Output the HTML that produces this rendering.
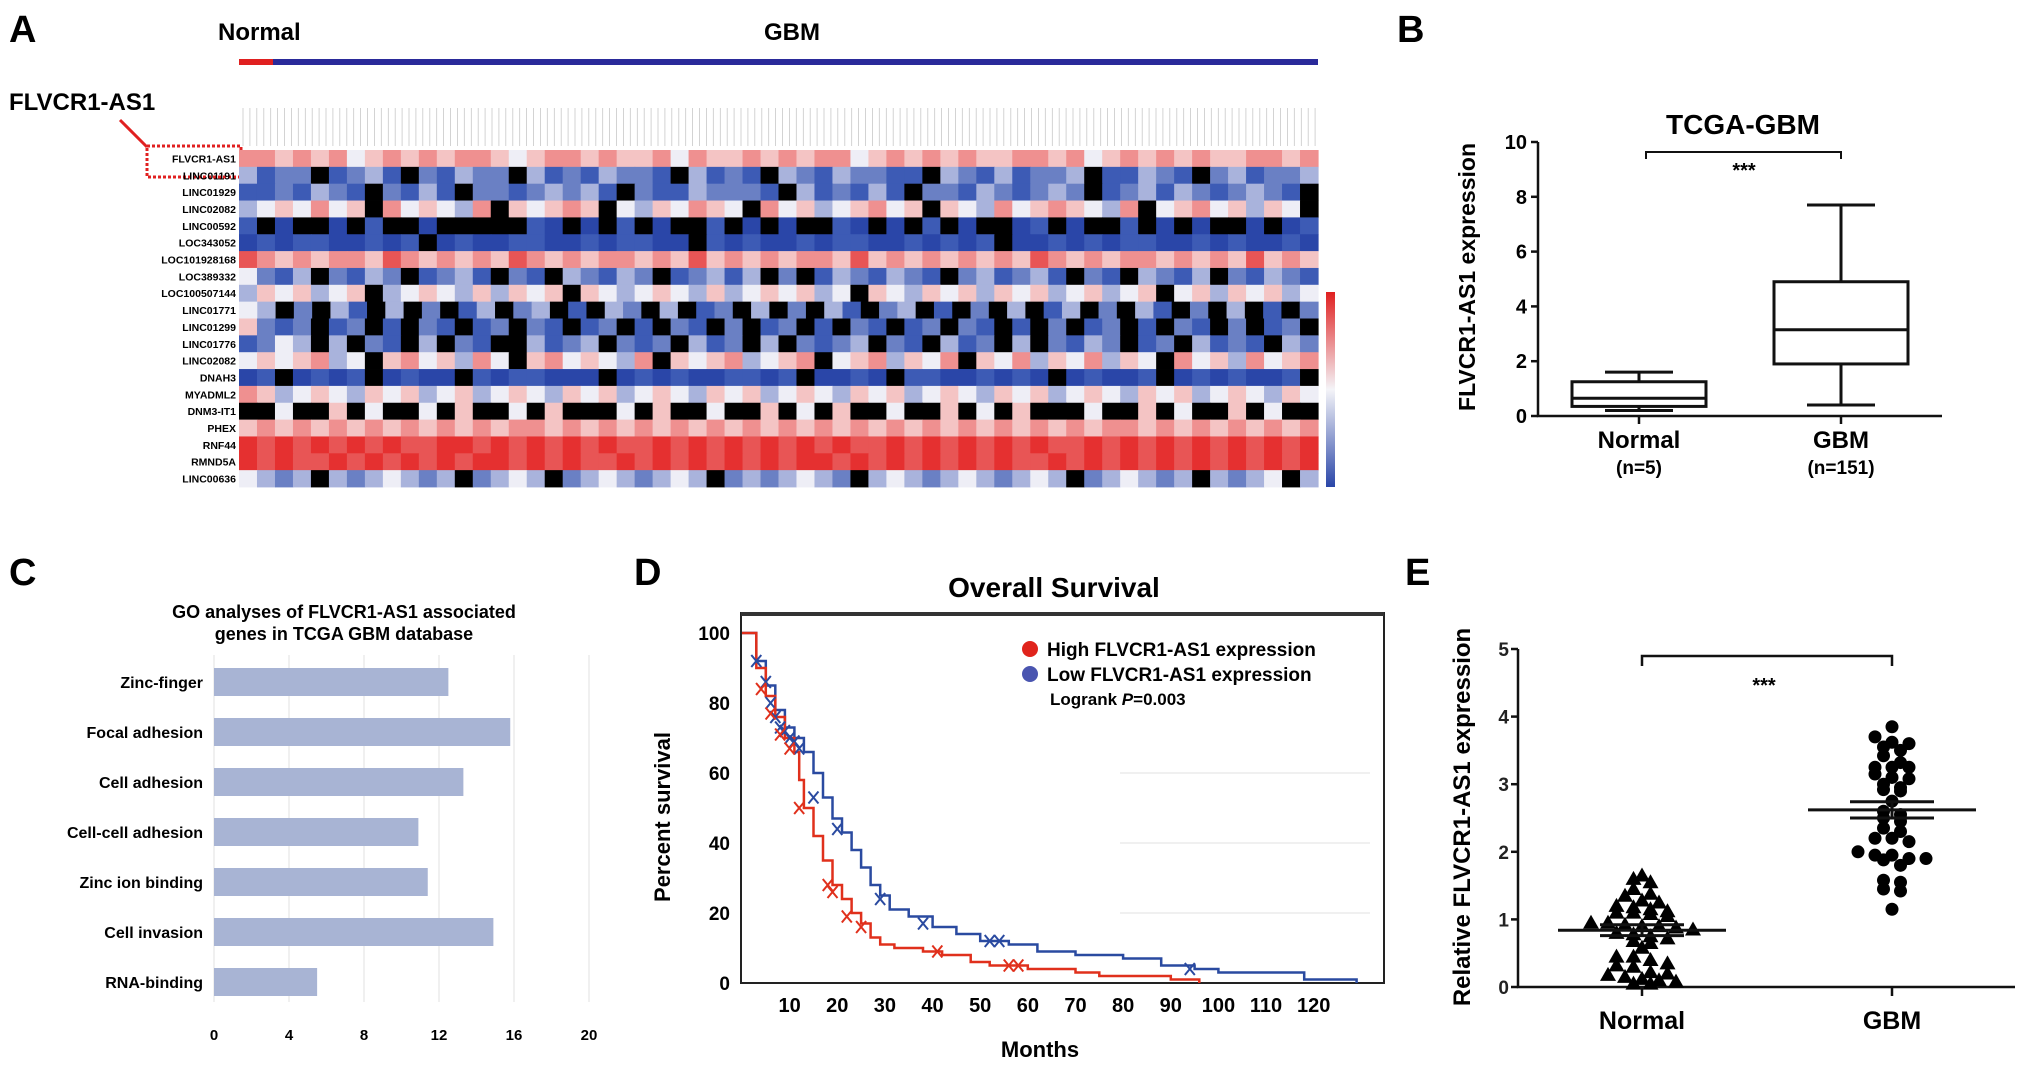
<!DOCTYPE html>
<html><head><meta charset="utf-8"><style>
html,body{margin:0;padding:0;background:#fff;}
svg{display:block;font-family:"Liberation Sans",Arial,sans-serif;font-weight:bold;}
</style></head><body>
<svg id="fig" width="2031" height="1065" viewBox="0 0 2031 1065" xmlns="http://www.w3.org/2000/svg">
<!-- Panel A static text -->
<text x="9" y="42" font-size="38">A</text>
<text x="218" y="40" font-size="24">Normal</text>
<text x="792" y="40" font-size="24" text-anchor="middle">GBM</text>
<rect x="239" y="59" width="34" height="6" fill="#e02020"/>
<rect x="273" y="59" width="1045" height="6" fill="#2a2a9a"/>
<text x="9" y="110" font-size="24">FLVCR1-AS1</text>
<line x1="120" y1="120" x2="147" y2="147" stroke="#e02020" stroke-width="3"/>
<rect x="147" y="146" width="94" height="31" fill="none" stroke="#e02020" stroke-width="3" stroke-dasharray="3,2"/>
<g id="heat"></g>
<defs><linearGradient id="cb" x1="0" y1="0" x2="0" y2="1"><stop offset="0" stop-color="#e02020"/><stop offset="0.5" stop-color="#f4f4f8"/><stop offset="1" stop-color="#2a46a8"/></linearGradient></defs>
<rect x="1326" y="292" width="9" height="195" fill="url(#cb)"/>

<!-- Panel B -->
<text x="1397" y="42" font-size="38">B</text>
<text x="1743" y="134" font-size="28" text-anchor="middle">TCGA-GBM</text>
<text transform="translate(1475,277) rotate(-90)" font-size="23" text-anchor="middle">FLVCR1-AS1 expression</text>
<g id="pb"></g>

<!-- Panel C -->
<text x="9" y="585" font-size="38">C</text>
<text x="344" y="618" font-size="18" text-anchor="middle">GO analyses of FLVCR1-AS1 associated</text>
<text x="344" y="640" font-size="18" text-anchor="middle">genes in TCGA GBM database</text>
<g id="pc"></g>

<!-- Panel D -->
<text x="634" y="585" font-size="38">D</text>
<text x="1054" y="597" font-size="28" text-anchor="middle">Overall Survival</text>
<text transform="translate(670,817) rotate(-90)" font-size="22" text-anchor="middle">Percent survival</text>
<text x="1040" y="1057" font-size="22" text-anchor="middle">Months</text>
<g id="pd"></g>
<circle cx="1030" cy="649" r="8" fill="#e0241c"/>
<text x="1047" y="656" font-size="19">High FLVCR1-AS1 expression</text>
<circle cx="1030" cy="674" r="8" fill="#4a55b0"/>
<text x="1047" y="681" font-size="19">Low FLVCR1-AS1 expression</text>
<text x="1050" y="705" font-size="17">Logrank <tspan font-style="italic">P</tspan>=0.003</text>

<!-- Panel E -->
<text x="1405" y="585" font-size="38">E</text>
<text transform="translate(1470,817) rotate(-90)" font-size="24" text-anchor="middle" font-weight="normal" style="font-weight:bold">Relative FLVCR1-AS1 expression</text>
<g id="pe"></g>
</svg>
<script>
const NS="http://www.w3.org/2000/svg";
function mk(parent,tag,attrs,txt){const e=document.createElementNS(NS,tag);for(const k in attrs)e.setAttribute(k,attrs[k]);if(txt!==undefined)e.textContent=txt;parent.appendChild(e);return e;}

/* ---------- Panel A heatmap data ---------- */
const heatGenes=["FLVCR1-AS1","LINC01191","LINC01929","LINC02082","LINC00592","LOC343052","LOC101928168","LOC389332","LOC100507144","LINC01771","LINC01299","LINC01776","LINC02082","DNAH3","MYADML2","DNM3-IT1","PHEX","RNF44","RMND5A","LINC00636"];
const heatRows=[
"665656456565665456656556465565656645656565566564565656556656",
"3122k1231k21322k31213221k3121k32132211k32131223k11321k231223",
"1121321k2131k22123231k21132221k312131k221321232k12313212321k",
"3454645k645436k54565k4354654k645345645k54364565436k45645354k",
"1k0kk0k1kk0kkkkk10k0k1k0kk1k0k0kk10k0k1k0kk01k0kk1k0k0kk0k01",
"0101100101k01001100101100k1010010110010101k00101011001010010",
"765656657656565765656656575656566575656565657656566565657565",
"4213k2132k1231k21k32132k12313k2k1321321k231231k21k3213k21321",
"3545345k3454353545k543454353454534k5435453545345345k45354534",
"43k2k31k3k2k13k23k1k32k3k12k3k2k31k23k1k2k3k13k2k31k2k3k1k2",
"5212k12k1k21k12k21k12k1k21k2k12k1k21k12k21k1k2k12k1k21k2k12k",
"1243k3k21k3k21kk3123k212k312k3k2123k21k312k3k2132k12k3121k32",
"4545634k5645364k5645436k54563456k4563546k5463546354k64536456",
"01k0101k0100k1011000k0101001101k0010k11001010k01001k0101001k",
"653454354534534543545345435453454354534543545345435453454354",
"kk4kk5k4kk4k5kk4k5kkk4k5kk4kk5k4k5kk4kk5k4k5kkk4kk5k4kk5k4kk",
"565656565656565665656565656565656565656565656565665656565656",
"878787878778878787878778787878787877878787878778787878787878",
"878778787878788787877878787878788787878787877878787878787878",
"4323k3234323k2343k23432343k2323432k34323432343k234323k3234k3"];
const heatPalette={"0":"#2a46a8","1":"#3d5bb5","2":"#6a80c4","3":"#a9b3dc","4":"#eeeef6","5":"#f4c4c4","6":"#ef9090","7":"#e85555","8":"#e53030","k":"#000000"};
(function(){
 const g=document.getElementById('heat');const L=239,R=1318,T=150,B=487;
 const rh=(B-T)/heatRows.length;
 heatRows.forEach((row,ri)=>{
  const cw=(R-L)/row.length;
  for(let c=0;c<row.length;c++){
   const r=mk(g,'rect',{x:(L+c*cw).toFixed(2),y:(T+ri*rh).toFixed(2),width:(cw+0.6).toFixed(2),height:(rh+0.4).toFixed(2),fill:heatPalette[row[c]]});
   
   
  }
  const t=mk(g,'text',{x:236,y:(T+ri*rh+rh/2+4).toFixed(1),'font-size':10.5,'text-anchor':'end'},heatGenes[ri]);
  
  
 });
 // tiny sample labels
 for(let i=0;i<156;i++){
  const x=L+4+i*(R-L)/156;
  const l=mk(g,'line',{x1:x.toFixed(1),y1:108,x2:x.toFixed(1),y2:146,stroke:'#c8c8c8','stroke-width':0.8});
  
  
 }
})();

/* ---------- Panel B box plot ---------- */
const boxGroups=["Normal","GBM"];
const boxN=["(n=5)","(n=151)"];
const boxMin=[0.2,0.4],boxQ1=[0.35,1.9],boxMed=[0.65,3.15],boxQ3=[1.25,4.9],boxMax=[1.6,7.7];
const boxYTicks=[0,2,4,6,8,10];
(function(){
 const g=document.getElementById('pb');
 const y=v=>416-v*27.4, xc=[1639,1841];
 const ax=mk(g,'path',{d:'M1538,142 V416 H1942',fill:'none',stroke:'#111','stroke-width':2.5});
 
 boxYTicks.forEach(v=>{
  const tk=mk(g,'line',{x1:1531,x2:1538,y1:y(v),y2:y(v),stroke:'#111','stroke-width':2.5});
  
  const t=mk(g,'text',{x:1527,y:y(v)+7,'font-size':20,'text-anchor':'end'},v);
  
 });
 boxGroups.forEach((name,i)=>{
  const c=xc[i];
  const tk=mk(g,'line',{x1:c,x2:c,y1:416,y2:424,stroke:'#111','stroke-width':2.5});
  
  const w=mk(g,'path',{d:`M${c-34},${y(boxMax[i])}H${c+34}M${c},${y(boxMax[i])}V${y(boxQ3[i])}M${c},${y(boxQ1[i])}V${y(boxMin[i])}M${c-34},${y(boxMin[i])}H${c+34}`,stroke:'#111','stroke-width':3,fill:'none'});
  
  const b=mk(g,'rect',{x:c-67,y:y(boxQ3[i]),width:134,height:y(boxQ1[i])-y(boxQ3[i]),fill:'none',stroke:'#111','stroke-width':3});
  
  const m=mk(g,'line',{x1:c-67,x2:c+67,y1:y(boxMed[i]),y2:y(boxMed[i]),stroke:'#111','stroke-width':3});
  
  const t=mk(g,'text',{x:c,y:448,'font-size':24,'text-anchor':'middle'},name);
  
  const n=mk(g,'text',{x:c,y:474,'font-size':19,'text-anchor':'middle'},boxN[i]);
  
 });
 const br=mk(g,'path',{d:'M1646,159 V152 H1841 V159',fill:'none',stroke:'#111','stroke-width':2});
 
 const s=mk(g,'text',{x:1744,y:177,'font-size':20,'text-anchor':'middle'},'***');
 
})();

/* ---------- Panel C GO bars ---------- */
const goTerms=["Zinc-finger","Focal adhesion","Cell adhesion","Cell-cell adhesion","Zinc ion binding","Cell invasion","RNA-binding"];
const goValues=[12.5,15.8,13.3,10.9,11.4,14.9,5.5];
const goTicks=[0,4,8,12,16,20];
(function(){
 const g=document.getElementById('pc');
 const x=v=>214+v*18.75;
 goTicks.forEach(v=>{
  const l=mk(g,'line',{x1:x(v),x2:x(v),y1:655,y2:1002,stroke:'#ececec','stroke-width':1.5});
  
  const t=mk(g,'text',{x:x(v),y:1040,'font-size':15,'text-anchor':'middle'},v);
  
 });
 goTerms.forEach((term,i)=>{
  const cy=682+i*50;
  const b=mk(g,'rect',{x:x(0),y:cy-14,width:x(goValues[i])-x(0),height:28,fill:'#a8b4d4'});
  
  const t=mk(g,'text',{x:203,y:cy+6,'font-size':16,'text-anchor':'end'},term);
  
 });
})();

/* ---------- Panel D survival ---------- */
const highMonths=[0,3,5,7,9,11,12,13,15,17,19,21,23,25,27,29,32,38,42,48,52,60,70,75,90,96];
const highSurv=[100,90,82,76,70,66,58,50,42,35,28,24,20,17,13,11,10,9,8,6,5,4,3,2,1,0];
const lowMonths=[0,3,5,7,9,11,13,15,17,19,21,23,25,27,29,31,35,40,45,50,56,62,70,80,88,95,100,118,129];
const lowSurv=[100,92,85,78,73,70,66,60,53,47,43,38,33,28,25,21,19,16,14,12,11,9,8,7,5,4,3,1,0];
const highCensorM=[4,6,8,10,12,18,19,22,25,41,56,58];
const highCensorS=[84,77,71,67,50,28,26,19,16,9,5,5];
const lowCensorM=[3,5,6,7,8,9,10,11,12,15,20,29,38,52,54,94];
const lowCensorS=[92,86,80,76,73,72,70,69,67,53,44,24,17,12,12,4];
const survXTicks=[10,20,30,40,50,60,70,80,90,100,110,120];
const survYTicks=[0,20,40,60,80,100];
(function(){
 const g=document.getElementById('pd');
 const x=m=>742+m*4.764, y=s=>983-s*3.5;
 [60,40,20].forEach(v=>{
  const l=mk(g,'line',{x1:1120,x2:1370,y1:y(v),y2:y(v),stroke:'#f0f0f0','stroke-width':2});
  
 });
 const fr=mk(g,'rect',{x:741,y:613,width:643,height:370,fill:'none',stroke:'#222','stroke-width':2});
 
 const tl=mk(g,'line',{x1:741,x2:1384,y1:614,y2:614,stroke:'#333','stroke-width':4});
 
 survXTicks.forEach(v=>{
  const t=mk(g,'text',{x:x(v),y:1012,'font-size':20,'text-anchor':'middle'},v);
  
 });
 survYTicks.forEach(v=>{
  const t=mk(g,'text',{x:730,y:y(v)+7,'font-size':19,'text-anchor':'end'},v);
  
 });
 function curve(ms,ss,col,name){
  let d=`M${x(ms[0])},${y(ss[0])}`;
  for(let i=1;i<ms.length;i++)d+=`H${x(ms[i]).toFixed(1)}V${y(ss[i]).toFixed(1)}`;
  const p=mk(g,'path',{d:d,fill:'none',stroke:col,'stroke-width':2.5});
  
 }
 function cens(ms,ss,col,name){
  ms.forEach((m,i)=>{
   const cx=x(m),cy=y(ss[i]);
   const p=mk(g,'path',{d:`M${cx-5},${cy-6}L${cx+5},${cy+6}M${cx+5},${cy-6}L${cx-5},${cy+6}`,stroke:col,'stroke-width':2});
   
  });
 }
 curve(lowMonths,lowSurv,'#2a4aa0','low-expression-curve');
 curve(highMonths,highSurv,'#e0301c','high-expression-curve');
 cens(lowCensorM,lowCensorS,'#2a4aa0','low-censor-mark');
 cens(highCensorM,highCensorS,'#e0301c','high-censor-mark');
})();

/* ---------- Panel E scatter ---------- */
const scatterGroups=["Normal","GBM"];
const normalValues=[1.65,1.6,1.55,1.45,1.38,1.35,1.28,1.25,1.2,1.18,1.15,1.12,1.1,1.1,1.08,1.05,0.95,0.95,0.92,0.9,0.9,0.88,0.85,0.8,0.78,0.75,0.72,0.68,0.65,0.58,0.45,0.45,0.4,0.35,0.32,0.3,0.22,0.2,0.18,0.15,0.12,0.1,0.08,0.05,0.05];
const gbmValues=[3.85,3.7,3.62,3.6,3.55,3.5,3.42,3.32,3.25,3.25,3.25,3.15,3.1,3.08,3.0,2.95,2.92,2.9,2.75,2.6,2.55,2.5,2.45,2.35,2.3,2.2,2.2,2.15,2.0,1.95,1.95,1.9,1.9,1.88,1.8,1.58,1.55,1.45,1.42,1.15];
const scatterMean=[0.84,2.62];
const scatterSem=[0.08,0.12];
const scatterYTicks=[0,1,2,3,4,5];
(function(){
 const g=document.getElementById('pe');
 const y=v=>987-v*67.6, xc=[1642,1892];
 const ax=mk(g,'path',{d:'M1518,649 V987 H2015',fill:'none',stroke:'#111','stroke-width':2.5});
 
 scatterYTicks.forEach(v=>{
  const tk=mk(g,'line',{x1:1511,x2:1518,y1:y(v),y2:y(v),stroke:'#111','stroke-width':2.5});
  
  const t=mk(g,'text',{x:1509,y:y(v)+7,'font-size':19,'text-anchor':'end',fill:'#222'},v);
  
 });
 function swarm(vals,c,tri){
  const bins={};
  vals.forEach(v=>{const k=Math.round(v/0.13);(bins[k]=bins[k]||[]).push(v);});
  Object.values(bins).forEach(arr=>{
   const n=arr.length;
   arr.forEach((v,j)=>{
    const off=(j-(n-1)/2)*17;
    const cx=c+off,cy=y(v);
    let e;
    if(tri){e=mk(g,'path',{d:`M${cx},${cy-8}L${cx+8},${cy+6}L${cx-8},${cy+6}Z`,fill:'#000'});
     }
    else{e=mk(g,'circle',{cx:cx,cy:cy,r:6.5,fill:'#000'});
     }
    
   });
  });
 }
 swarm(normalValues,xc[0],true);
 swarm(gbmValues,xc[1],false);
 scatterGroups.forEach((name,i)=>{
  const c=xc[i];
  const tk=mk(g,'line',{x1:c,x2:c,y1:987,y2:996,stroke:'#111','stroke-width':2.5});
  
  const m=mk(g,'line',{x1:c-84,x2:c+84,y1:y(scatterMean[i]),y2:y(scatterMean[i]),stroke:'#111','stroke-width':3});
  
  const s=mk(g,'path',{d:`M${c-42},${y(scatterMean[i]+scatterSem[i])}H${c+42}M${c-42},${y(scatterMean[i]-scatterSem[i])}H${c+42}M${c},${y(scatterMean[i]+scatterSem[i])}V${y(scatterMean[i]-scatterSem[i])}`,stroke:'#111','stroke-width':3,fill:'none'});
  
  const t=mk(g,'text',{x:c,y:1029,'font-size':25,'text-anchor':'middle'},name);
  
 });
 const br=mk(g,'path',{d:'M1642,666 V656 H1892 V666',fill:'none',stroke:'#111','stroke-width':2.5});
 
 const st=mk(g,'text',{x:1764,y:692,'font-size':20,'text-anchor':'middle'},'***');
 
})();
</script>
</body></html>
